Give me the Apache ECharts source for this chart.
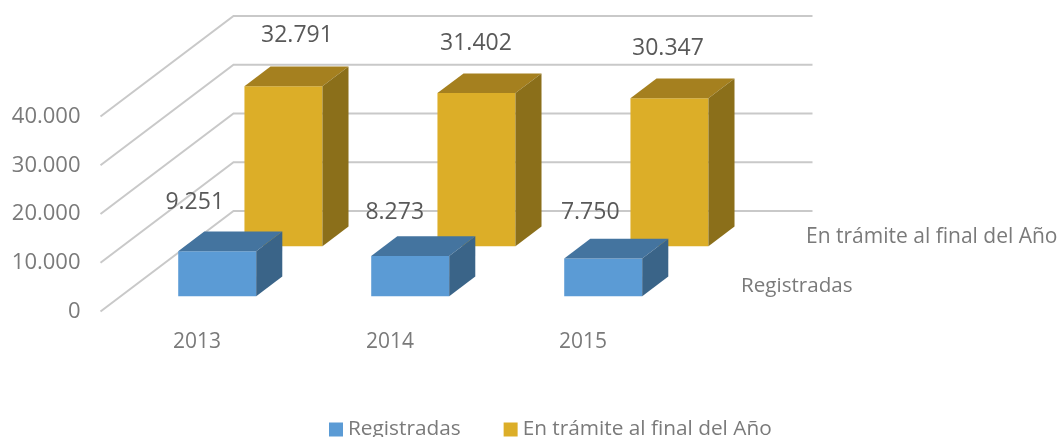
<!DOCTYPE html>
<html><head><meta charset="utf-8">
<style>html,body{margin:0;padding:0;background:#fff;overflow:hidden}#c{width:1061px;height:437px}</style>
<script src="https://cdn.jsdelivr.net/npm/echarts@6/dist/echarts.min.js"></script>
</head><body><div id="c"></div>
<script>
var categories = ['2013', '2014', '2015'];
var registradas = [9251, 8273, 7750];
var enTramite = [32791, 31402, 30347];
var wallTicks = [0, 10000, 20000, 30000, 40000];
var registradasLabelOffset = [[-22.5, -49], [-15.5, -43], [-13, -46]];
var enTramiteLabelOffset = [[13.5, -51], [-0.5, -50], [-1.5, -50]];

var FONT = '"Open Sans", sans-serif';
var DEPTH = [133, -100.5];      // floor depth vector of the 3D box, px
var BAR_WIDTH = 78;
var BAR_DEPTH = 0.196;

function fmt(v) { return String(v).replace(/\B(?=(\d{3})+$)/g, '.'); }
function shift(p, d) { return [p[0] + DEPTH[0] * d, p[1] + DEPTH[1] * d]; }

function wallItem(params, api) {
  var v = api.value(1);
  var band = api.size([1, 0])[0];
  var c0 = api.coord([0, v]);
  var a = [c0[0] - band / 2, c0[1]];
  var b = shift(a, 1);
  var c = [b[0] + band * categories.length, b[1]];
  return { type: 'polyline', shape: { points: [a, b, c] },
    style: { fill: null, stroke: '#c9c9c9', lineWidth: 2 } };
}

function barRender(rowDepth, cols, labelOff) {
  return function (params, api) {
    var i = api.value(0), v = api.value(1);
    var base = shift(api.coord([i, 0]), rowDepth);
    var top = shift(api.coord([i, v]), rowDepth);
    var l = base[0] - BAR_WIDTH / 2, r = base[0] + BAR_WIDTH / 2;
    var dx = DEPTH[0] * BAR_DEPTH, dy = DEPTH[1] * BAR_DEPTH;
    var off = labelOff[params.dataIndex];
    function poly(pts, fill) {
      return { type: 'polygon', shape: { points: pts }, style: { fill: fill } };
    }
    return { type: 'group', children: [
      poly([[l, top[1]], [r, top[1]], [r, base[1]], [l, base[1]]], cols[0]),
      poly([[l, top[1]], [l + dx, top[1] + dy], [r + dx, top[1] + dy], [r, top[1]]], cols[1]),
      poly([[r, top[1]], [r + dx, top[1] + dy], [r + dx, base[1] + dy], [r, base[1]]], cols[2]),
      { type: 'text', z2: 10, style: { text: fmt(v), x: base[0] + off[0], y: top[1] + off[1],
        align: 'center', verticalAlign: 'middle', fill: '#595959', font: '23px ' + FONT } }
    ] };
  };
}

var chart = echarts.init(document.getElementById('c'), null, { renderer: 'canvas' });
chart.setOption({
  animation: false,
  backgroundColor: '#fff',
  grid: { left: 100.5, top: 116.5, width: 579, height: 195 },
  xAxis: { type: 'category', data: categories,
    axisLine: { show: false }, axisTick: { show: false }, splitLine: { show: false },
    axisLabel: { color: '#7a7a7a', fontFamily: FONT, fontSize: 21, margin: 20 } },
  yAxis: { type: 'value', min: 0, max: 40000, interval: 10000,
    axisLine: { show: false }, axisTick: { show: false }, splitLine: { show: false },
    axisLabel: { color: '#7a7a7a', fontFamily: FONT, fontSize: 22, margin: 20, padding: [3, 0, 0, 0], formatter: fmt } },
  legend: { show: true, left: 329, top: 419, padding: 0, itemWidth: 14, itemHeight: 14, itemGap: 43,
    icon: 'rect', selectedMode: false,
    data: ['Registradas', 'En trámite al final del Año'],
    textStyle: { color: '#7a7a7a', fontFamily: FONT, fontSize: 20.8 } },
  graphic: [
    { type: 'text', left: 741, top: 276, style: { text: 'Registradas', fill: '#7a7a7a', font: '20.6px ' + FONT } },
    { type: 'text', left: 806, top: 227, style: { text: 'En trámite al final del Año', fill: '#7a7a7a', font: '21px ' + FONT } }
  ],
  series: [
    { type: 'custom', name: 'Pared', silent: true, clip: false, z: 1,
      data: wallTicks.map(function (t) { return [0, t]; }),
      encode: { x: 0, y: 1 }, renderItem: wallItem },
    { type: 'custom', name: 'En trámite al final del Año', clip: false, z: 2,
      itemStyle: { color: '#dcae28' },
      data: enTramite.map(function (v, i) { return [i, v]; }),
      encode: { x: 0, y: 1 },
      renderItem: barRender(0.65, ['#dcae28', '#a5801f', '#8b6f1a'], enTramiteLabelOffset) },
    { type: 'custom', name: 'Registradas', clip: false, z: 3,
      itemStyle: { color: '#5b9bd5' },
      data: registradas.map(function (v, i) { return [i, v]; }),
      encode: { x: 0, y: 1 },
      renderItem: barRender(0.152, ['#5b9bd5', '#44749f', '#3a6488'], registradasLabelOffset) }
  ]
});
</script></body></html>
